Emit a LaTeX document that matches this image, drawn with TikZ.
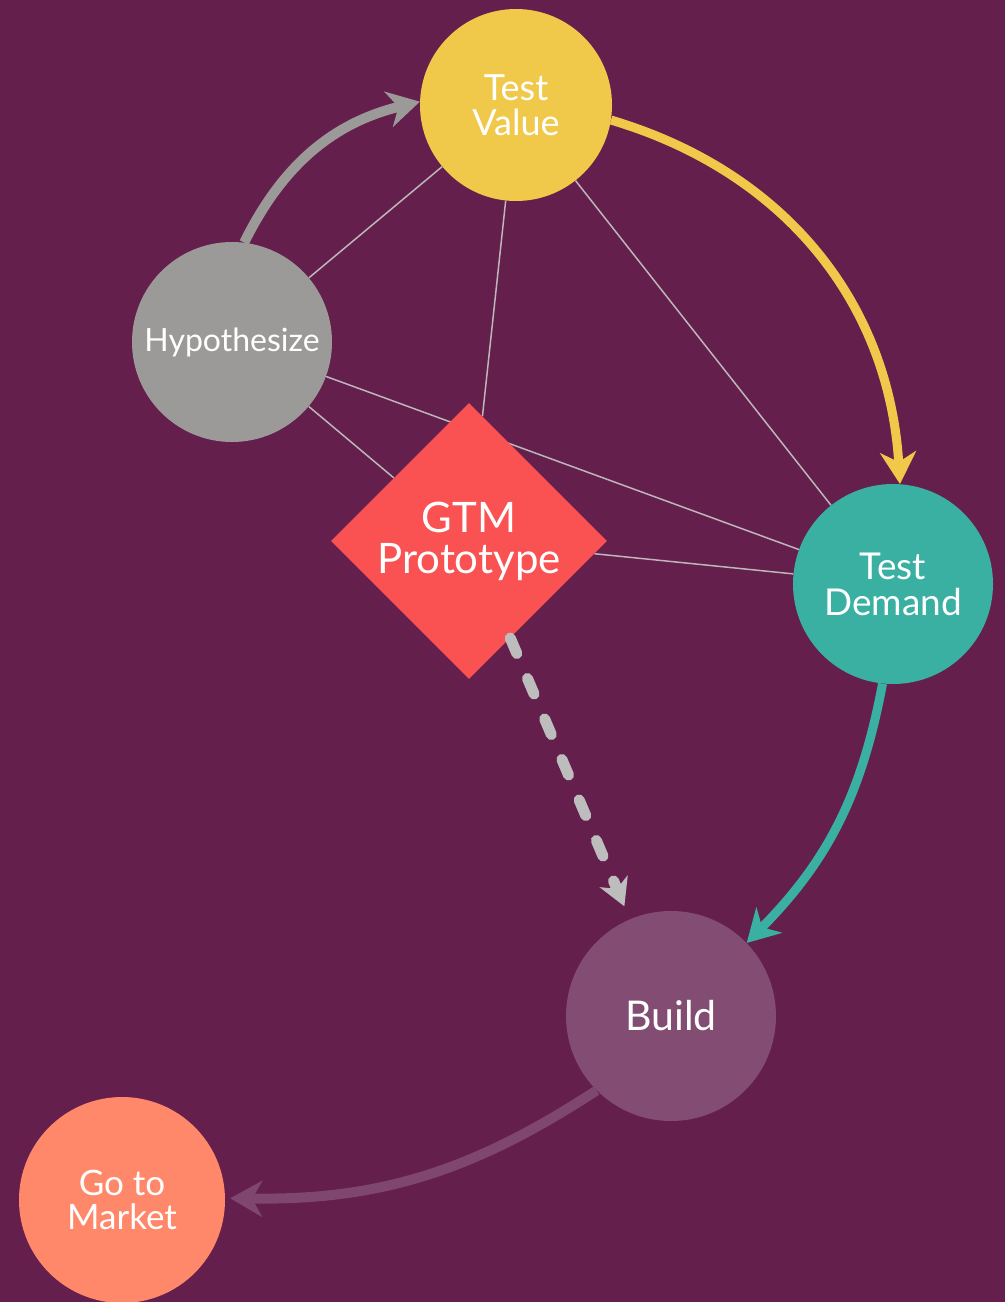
\documentclass[tikz,border=0pt]{standalone}
\usepackage{fontspec}
\setmainfont{Lato}
\usetikzlibrary{arrows.meta,positioning,shapes.geometric}
\definecolor{bgplum}{HTML}{641F4C}
\definecolor{valuecol}{HTML}{F0C94B}
\definecolor{hypcol}{HTML}{9B9A98}
\definecolor{gtmcol}{HTML}{FA5252}
\definecolor{demandcol}{HTML}{3AB0A2}
\definecolor{buildcol}{HTML}{834D73}
\definecolor{marketcol}{HTML}{FF886B}
\definecolor{linkgray}{HTML}{BDB6BA}
\definecolor{dashgray}{HTML}{BDBDBD}
\definecolor{exitcol}{HTML}{7F4670}
\tikzset{bubble/.style={circle, inner sep=0pt, text=white, align=center}}
\tikzset{link/.style={draw=linkgray, line width=1.5pt}}
\tikzset{flow/.style={draw, line width=10pt, -{Stealth[length=32pt, width=36pt, inset=10pt]}}}
\pgfdeclarelayer{bg}
\pgfdeclarelayer{links}
\pgfsetlayers{bg,links,main}

\begin{document}
\begin{tikzpicture}[x=1pt, y=-1pt]
        \begin{pgfonlayer}{bg}
            \fill[bgplum] (0,0) rectangle (1005,1302);
        \end{pgfonlayer}
        \useasboundingbox (0,0) rectangle (1005,1302);

        \node[bubble, fill=valuecol, minimum size=192pt, font=\fontsize{36}{35}\selectfont] (V) at (516,105) {Test\\Value};
        \node[bubble, fill=hypcol, minimum size=200pt, font=\fontsize{32}{33}\selectfont] (H) at (232,342) {Hypothesize};
        \node[diamond, aspect=1, inner sep=0pt, fill=gtmcol, text=white, align=center, minimum size=276pt, font=\fontsize{42}{41}\selectfont] (G) at (469,541) {GTM\\Prototype};
        \node[bubble, fill=demandcol, minimum size=200pt, font=\fontsize{37}{36}\selectfont] (D) at (893,584) {Test\\Demand};
        \node[bubble, fill=buildcol, minimum size=210pt, font=\fontsize{41}{40}\selectfont] (B) at (671,1016) {Build};
        \node[bubble, fill=marketcol, minimum size=206pt, font=\fontsize{35}{34}\selectfont] (M) at (122,1200) {Go to\\Market};

        % thin links behind the nodes
        \begin{pgfonlayer}{links}
            \draw[link] (V) -- (H);
            \draw[link] (V) -- (G);
            \draw[link] (V) -- (D);
            \draw[link] (H) -- (D);
            \draw[link] (H) -- (G);
            \draw[link] (G) -- (D);
        \end{pgfonlayer}

        \draw[flow, hypcol] (H.83) to[bend left=25] (V.178);
        \draw[flow, valuecol, line width=9pt] (V.-9) to[bend left=35] (D.86);
        \draw[flow, demandcol, line width=9pt] (D.-96) to[bend left=17] (B.44);
        \draw[flow, exitcol, shorten >=5pt] (B.-135) to[bend left=17] (M.1);
        \draw[dashgray, line width=11pt, line cap=round, dash pattern=on 17pt off 27pt, shorten >=14pt,
              -{Stealth[length=27pt, width=30pt, inset=8pt]}] (G) -- (B);
    \end{tikzpicture}
\end{document}
